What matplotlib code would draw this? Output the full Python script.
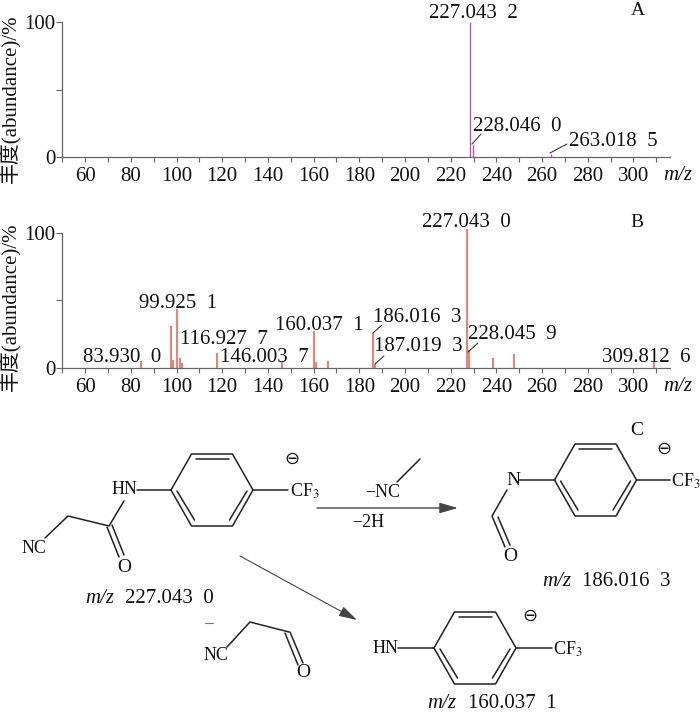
import numpy as np
import matplotlib
matplotlib.use('Agg')
import matplotlib.pyplot as plt

plt.rcParams['font.family'] = ['Liberation Serif', 'Noto Sans CJK SC', 'DejaVu Sans']
plt.rcParams['mathtext.fontset'] = 'stix'

# spectrum A
mz_a = [228.5, 229.6, 263.8]
abund_a = [100, 9, 2]
# spectrum B
mz_b = [84.4, 97.5, 98.4, 100.4, 101.5, 102.3, 117.5, 146.1, 160.3, 161.2, 166.3,
        186.0, 186.9, 227.0, 227.9, 238.6, 247.5, 309.0]
abund_b = [5, 31, 6, 44, 7.5, 4, 11, 5.5, 27.5, 4.5, 5.5,
           26.5, 3, 103, 13, 7.5, 10.5, 4.5]

x_ticks = list(range(60, 301, 20))
labels_a = ["227.043  2", "228.046  0", "263.018  5"]
labels_b = ["227.043  0", "99.925  1", "116.927  7", "83.930  0", "146.003  7",
            "160.037  1", "186.016  3", "187.019  3", "228.045  9", "309.812  6"]
W, H = 700, 715
fig = plt.figure(figsize=(W / 100, H / 100), dpi=100, facecolor='white')


def px_axes(left, right, top, bottom):
    return fig.add_axes([left / W, 1 - bottom / H, (right - left) / W, (bottom - top) / H])


def spectrum(top, bottom, mz, abund, color, lw):
    ax = px_axes(62.3, 670, top, bottom)
    ax.set_xlim(50, 316)
    ax.set_ylim(0, 100)
    ax.vlines(mz, 0, abund, color=color, lw=lw, clip_on=False)
    ax.set_xticks(x_ticks)
    ax.set_xticks(list(range(50, 316, 20)), minor=True)
    ax.set_yticks([0, 100])
    ax.set_yticks([50], minor=True)
    ax.tick_params(axis='x', which='both', length=3.6, width=0.8, color='#666666', labelsize=15, pad=3.5, labelcolor='#111111')
    ax.tick_params(axis='y', which='both', length=4, width=0.8, color='#666666', labelsize=15, pad=1, labelcolor='#111111')
    for s in ['top', 'right']:
        ax.spines[s].set_visible(False)
    for s in ['left', 'bottom']:
        ax.spines[s].set_color('#666666')
        ax.spines[s].set_linewidth(0.9)
    ax.patch.set_alpha(0)
    return ax


ax_a = spectrum(22, 157, mz_a, abund_a, '#BE55A0', 1.0)
ax_b = spectrum(233, 368, mz_b, abund_b, '#E8837A', 1.5)

# overlay in pixel coords for labels and the reaction scheme
ov = fig.add_axes([0, 0, 1, 1])
ov.set_xlim(0, W)
ov.set_ylim(H, 0)
ov.axis('off')


def txt(x, y, s, size=15, ha='left', **kw):
    ov.text(x, y + 1.5, s, fontsize=size, ha=ha, va='center', color='#111111', **kw)


def line(pts, lw=1.1, color='#222222'):
    p = np.array(pts)
    ov.plot(p[:, 0], p[:, 1], color=color, lw=lw, solid_capstyle='round')


# y labels and m/z
for yc in [99, 307]:
    ov.text(10, yc, "丰度(abundance)/%", fontsize=15, ha='center', va='center', rotation=90, color='#111111')
for yc in [174, 385]:
    txt(663, yc, "m/z", size=15, style='italic')
txt(638, 9, "A", size=14, ha='center')
txt(637, 221, "B", size=14, ha='center')
txt(637, 429, "C", size=14, ha='center')

# peak labels A
for s, x, y in zip(labels_a, [429, 473, 569], [12, 125, 140]):
    txt(x, y, s)
line([(472, 144), (481, 134)], 0.7)
line([(550, 153), (567, 144)], 0.7)

# peak labels B
for s, x, y in zip(labels_b, [422, 139, 180, 83, 220, 275, 373, 374, 468, 602],
                   [221, 302, 338, 356, 356, 324, 316, 345, 333, 356]):
    txt(x, y, s)
line([(373, 333), (382, 325)], 0.7)
line([(375, 364), (384, 356)], 0.7)
line([(468, 352), (478, 343)], 0.7)


def ring(cx, cy, a=41, h=36):
    pts = [(cx - a, cy), (cx - a / 2, cy - h), (cx + a / 2, cy - h), (cx + a, cy), (cx + a / 2, cy + h), (cx - a / 2, cy + h), (cx - a, cy)]
    line(pts)
    # inner double bonds
    line([(cx - a / 2 + 4, cy - h + 5), (cx + a / 2 - 4, cy - h + 5)])
    line([(cx - a + 6, cy + 1), (cx - a / 2 + 3, cy + h - 6)])
    line([(cx + a - 6, cy + 1), (cx + a / 2 - 3, cy + h - 6)])


def cf3(x, y):
    ov.text(x, y, r"CF$_3$", fontsize=13, ha='left', va='center', color='#111111')


def minus(x, y):
    ov.text(x, y, "\u2296", fontsize=13, ha='center', va='center', color='#111111', family='DejaVu Sans')


# parent ion
ring(212, 490)
line([(137, 490), (171, 490)])
line([(253, 490), (288, 490)])
cf3(290, 491)
minus(292, 459)
txt(124, 488, "HN", size=13, ha='center')
line([(124, 501), (109, 526), (68, 516), (45, 538)])
line([(107, 527), (119, 557)])
line([(112, 525), (124, 555)])
txt(34, 547, "NC", size=13, ha='center')
txt(124, 566, "O", size=14, ha='center')
txt(85, 597, "m/z", style='italic')
txt(125, 597, "227.043  0")

# neutral loss below
line([(205, 623), (213, 623)], 0.8, '#777777')
line([(227, 647), (250, 622), (289, 632)])
line([(285, 633), (298, 665)])
line([(290, 632), (303, 663)])
txt(216, 654, "NC", size=13, ha='center')
txt(303, 671, "O", size=14, ha='center')

# arrows
head = '-|>,head_length=0.7,head_width=0.2'
ov.annotate("", xy=(458, 508), xytext=(317, 508),
            arrowprops=dict(arrowstyle=head, color='#444444', lw=1.0, mutation_scale=16, shrinkA=0, shrinkB=0))
ov.annotate("", xy=(357, 620), xytext=(240, 556),
            arrowprops=dict(arrowstyle=head, color='#444444', lw=0.8, mutation_scale=16, shrinkA=0, shrinkB=0))
txt(383, 491, "\u2212NC", size=13, ha='center')
line([(397, 482), (420, 459)])
txt(368, 521, "\u22122H", size=13, ha='center')

# m/z 186
ring(595.5, 480)
line([(519, 480), (554, 480)])
line([(637, 480), (670, 480)])
cf3(671, 481)
minus(664, 449)
txt(513, 479, "N", size=14, ha='center')
line([(507, 490), (492, 516), (505, 547)])
line([(498, 517), (510, 545)])
txt(510, 555, "O", size=14, ha='center')
txt(542, 580, "m/z", style='italic')
txt(582, 580, "186.016  3")

# m/z 160
ring(475, 648)
line([(398, 648), (434, 648)])
line([(516, 648), (552, 648)])
cf3(553, 649)
minus(530, 616)
txt(385, 647, "HN", size=13, ha='center')
txt(427, 702, "m/z", style='italic')
txt(468, 702, "160.037  1")

fig.savefig('out.png', dpi=100)
